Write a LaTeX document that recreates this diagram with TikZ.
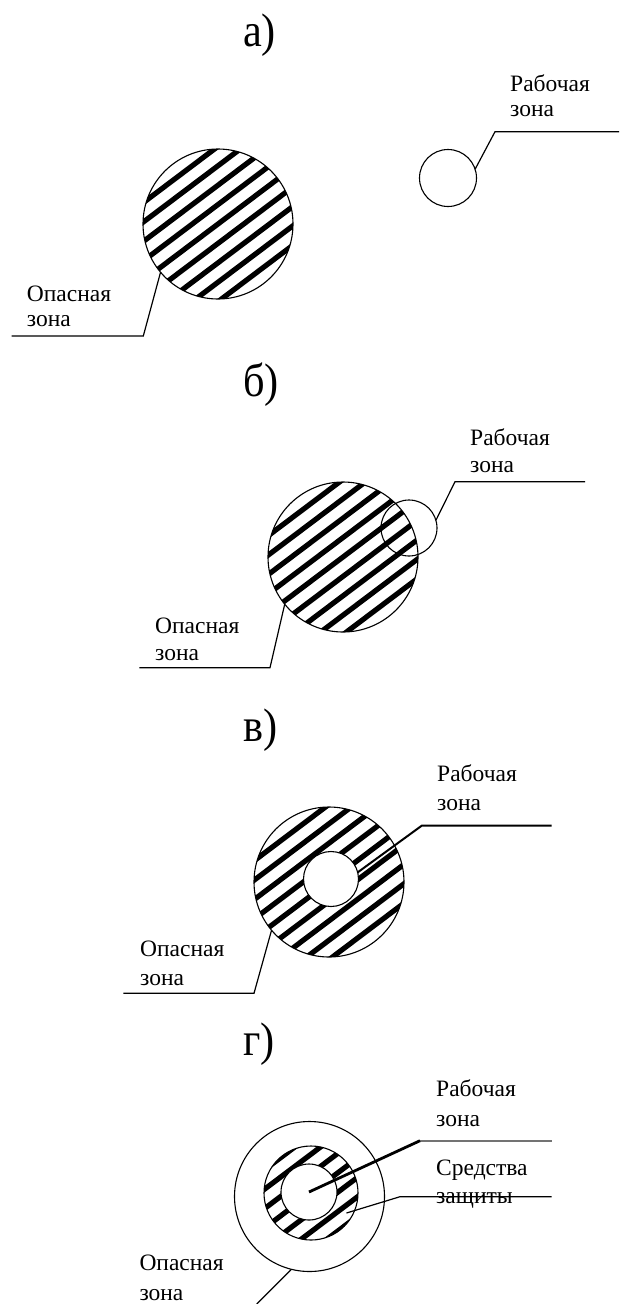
\documentclass[tikz,border=0pt]{standalone}
\usepackage{fontspec}
\usetikzlibrary{calc}
\setmainfont{Liberation Serif}
\newfontfamily\panelfont{Liberation Serif}[FakeStretch=0.9]
\begin{document}
\begin{tikzpicture}[x=1pt,y=-1pt,
  outline/.style={circle, draw, line width=1.1pt, inner sep=0pt, outer sep=0pt},
  hatched/.style={outline, path picture={
       \foreach \k in {-7,...,7}
         \draw[line width=5.2pt]
           ($(path picture bounding box.center)+({\k*15.5*0.6018-110*0.7986},{\k*15.5*0.7986+110*0.6018})$) --
           ($(path picture bounding box.center)+({\k*15.5*0.6018+110*0.7986},{\k*15.5*0.7986-110*0.6018})$);
     }},
  lbl/.style={font=\fontsize{23.5}{28}\selectfont, anchor=base west, inner sep=0pt},
  panel/.style={font=\panelfont\fontsize{47}{50}\selectfont, anchor=base west, inner sep=0pt},
  leader/.style={line width=1.2pt},
]
\fill[white] (0,0) rectangle (619,1304);
\useasboundingbox (0,0) rectangle (619,1304);

% ---------- panel a ----------
\node[panel] (la) at (243,46) {а)};
\node[hatched, minimum size=150pt] (oa) at (218,224) {};
\node[outline, minimum size=57pt] (ra) at (448,178) {};
\node[lbl] (ra1) at (510,91) {Рабочая};
\node[lbl] (ra2) at (510,116) {зона};
\coordinate (rab) at (495,131.7);
\coordinate (rae) at (619,131.7);
\draw[leader] (ra.18) -- (rab) -- (rae);
\node[lbl] (oa1) at (26.7,301.7) {Опасная};
\node[lbl] (oa2) at (26.7,326.7) {зона};
\coordinate (oab) at (143.3,336);
\coordinate (oae) at (11.7,336);
\draw[leader] (oa.220) -- (oab) -- (oae);

% ---------- panel b ----------
\node[panel] (lb) at (243,396) {б)};
\node[hatched, minimum size=150pt] (ob) at (343,557) {};
\node[outline, minimum size=56pt] (rb) at (409,528) {};
\node[lbl] (rb1) at (470,445) {Рабочая};
\node[lbl] (rb2) at (470,472) {зона};
\coordinate (rbb) at (455,481.7);
\coordinate (rbe) at (585,481.7);
\draw[leader] (rb.16) -- (rbb) -- (rbe);
\node[lbl] (ob1) at (155,633.3) {Опасная};
\node[lbl] (ob2) at (155,660) {зона};
\coordinate (obb) at (270,667.7);
\coordinate (obe) at (139.3,667.7);
\draw[leader] (ob.219) -- (obb) -- (obe);

% ---------- panel c ----------
\node[panel] (lc) at (243,741.5) {в)};
\node[hatched, minimum size=150pt] (oc) at (329,882) {};
\node[outline, fill=white, minimum size=55pt] (rc) at (331,879) {};
\node[lbl] (rc1) at (437,781.7) {Рабочая};
\node[lbl] (rc2) at (437,810) {зона};
\coordinate (rcb) at (421.7,825.7);
\coordinate (rce) at (551.7,825.7);
\draw[line width=2pt] (rc.14) -- (rcb) -- (rce);
\node[lbl] (oc1) at (140,956.7) {Опасная};
\node[lbl] (oc2) at (140,985) {зона};
\coordinate (ocb) at (254,993.3);
\coordinate (oce) at (123.3,993.3);
\draw[leader] (oc.220) -- (ocb) -- (oce);

% ---------- panel d ----------
\node[panel] (ld) at (243,1055) {г)};
\node[outline, minimum size=150pt] (od) at (309.5,1196.5) {};
\node[hatched, minimum size=94pt] (sd) at (311,1193) {};
\node[outline, fill=white, minimum size=56pt] (rd) at (309,1192) {};
\node[lbl] (rd1) at (436,1096.7) {Рабочая};
\node[lbl] (rd2) at (436,1126) {зона};
\coordinate (rdb) at (420,1140.7);
\coordinate (rde) at (551.7,1140.7);
\draw[line width=2pt, black!55] (rdb) -- (rde);
\draw[line width=2.8pt] (rd.center) -- (rdb);
\node[lbl] (sd1) at (436,1175) {Средства};
\node[lbl] (sd2) at (436,1203) {защиты};
\coordinate (sdp) at (346.5,1213);
\coordinate (sdb) at (400,1196.7);
\coordinate (sde) at (551.7,1196.7);
\draw[leader] (sdp) -- (sdb) -- (sde);
\node[lbl] (od1) at (139.3,1270.7) {Опасная};
\node[lbl] (od2) at (139.3,1300) {зона};
\coordinate (ode) at (256.7,1304);
\draw[leader] (od.256) -- (ode);
\end{tikzpicture}
\end{document}
